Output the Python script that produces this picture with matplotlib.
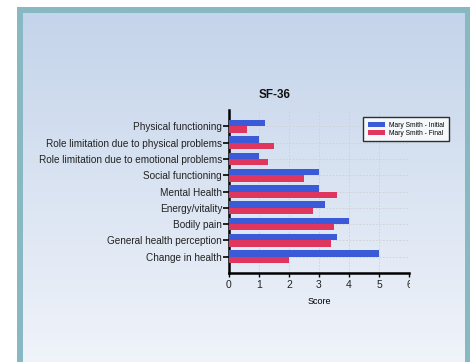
import matplotlib.pyplot as plt
import numpy as np
from matplotlib.patches import Rectangle
from matplotlib.transforms import Bbox, IdentityTransform, TransformedBbox

# SF-36 dimensions, listed top to bottom
categories = [
    'Physical functioning',
    'Role limitation due to physical problems',
    'Role limitation due to emotional problems',
    'Social functioning',
    'Mental Health',
    'Energy/vitality',
    'Bodily pain',
    'General health perception',
    'Change in health',
]
initial_scores = [1.2, 1.0, 1.0, 3.0, 3.0, 3.2, 4.0, 3.6, 5.0]
final_scores = [0.6, 1.5, 1.3, 2.5, 3.6, 2.8, 3.5, 3.4, 2.0]
series_names = ['Mary Smith - Initial', 'Mary Smith - Final']
x_ticks = [0, 1, 2, 3, 4, 5, 6]

blue = '#3a5ad8'
red = '#e0365e'
W, H = 474, 362

plt.rcParams['font.family'] = ['Liberation Sans', 'DejaVu Sans']
fig = plt.figure(figsize=(W / 100, H / 100), dpi=100)
fig.patch.set_facecolor('white')

# framed panel with a soft vertical gradient
bg = fig.add_axes([0, 0, 1, 1], zorder=-10)
bg.axis('off')
top_c = np.array([0xc4, 0xd4, 0xea]) / 255
bot_c = np.array([0xf2, 0xf5, 0xfb]) / 255
t = np.linspace(0, 1, 256)[:, None, None]
grad = top_c * (1 - t) + bot_c * t
grad = np.repeat(grad, 2, axis=1)
bg.add_patch(Rectangle((17, 7), 453, 360, facecolor='#88b8c2', edgecolor='none', zorder=1))
bg.imshow(grad, extent=[23, 465, 380, 13], aspect='auto', interpolation='bilinear', zorder=2)
bg.set_xlim(0, W)
bg.set_ylim(H, 0)

# bar chart, one empty slot kept above and below the categories
left, right, top, bottom = 229, 409, 110, 273
ax = fig.add_axes([left / W, 1 - bottom / H, (right - left) / W, (bottom - top) / H])
ax.patch.set_alpha(0)
y = np.arange(len(categories))
h = 0.39
ax.barh(y - h / 2, initial_scores, height=h, color=blue, label=series_names[0], zorder=3)
ax.barh(y + h / 2, final_scores, height=h, color=red, label=series_names[1], zorder=3)
ax.set_ylim(len(categories), -1)
ax.set_xlim(0, 6)
ax.set_yticks(y)
ax.set_yticklabels(categories, fontsize=7.2, color='#222222')
ax.set_xticks(x_ticks)
ax.set_xticklabels([str(v) for v in x_ticks], fontsize=7.5, color='#222222')
ax.tick_params(axis='y', length=4, width=1.2, pad=1)
ax.tick_params(axis='x', length=3, width=1, pad=2)
ax.grid(True, color='#cfcfd4', linestyle=(0, (2, 2)), linewidth=0.6, zorder=0)
for s in ['top', 'right']:
    ax.spines[s].set_visible(False)
for s in ['left', 'bottom']:
    ax.spines[s].set_linewidth(1.8)
ax.set_xlabel('Score', fontsize=6.5, labelpad=5)

# last tick label is cut at the plot edge
clip = TransformedBbox(Bbox([[0, 0], [right + 1, H]]), IdentityTransform())
lab6 = ax.get_xticklabels()[-1]
lab6.set_clip_box(clip)
lab6.set_clip_on(True)

fig.text(275 / W, 1 - 95 / H, 'SF-36', fontsize=8.5, fontweight='bold',
         ha='center', va='center', color='#111111')

leg = ax.legend(loc='upper left', bbox_to_anchor=(363 / W, 1 - 117 / H),
                bbox_transform=fig.transFigure, fontsize=4.8, frameon=True,
                fancybox=False, shadow=False, handlelength=2.6, handleheight=0.9,
                borderpad=0.7, labelspacing=0.15, handletextpad=0.6,
                borderaxespad=0)
leg.get_frame().set_edgecolor('black')
leg.get_frame().set_linewidth(1.0)
leg.get_frame().set_facecolor('white')

fig.savefig('out.png', dpi=100)
